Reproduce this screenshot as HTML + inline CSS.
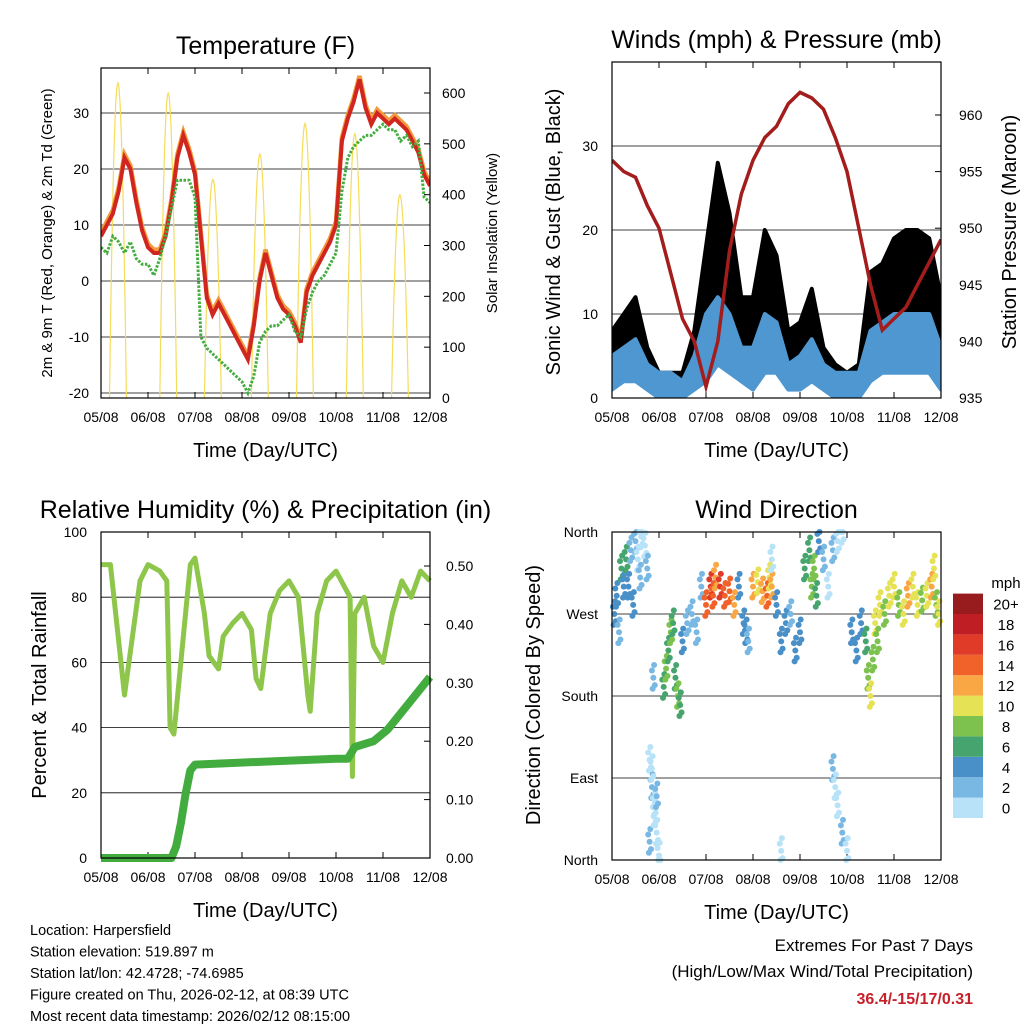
<!DOCTYPE html>
<html><head><meta charset="utf-8"><style>
html,body{margin:0;padding:0;background:#fff;}
svg{display:block;font-family:"Liberation Sans",sans-serif;}
</style></head><body>
<svg id="c" width="1024" height="1024" viewBox="0 0 1024 1024" xmlns="http://www.w3.org/2000/svg">
<rect width="1024" height="1024" fill="#fff"/>
</svg>
<script>
// ---------- DATA ----------
const dayLabels = ["05/08","06/08","07/08","08/08","09/08","10/08","11/08","12/08"];
const tempF = [8,10,12,16,22,20,14,9,6,5,5,8,14,22,26,23,19,8,-3,-6,-4,-6,-8,-10,-12,-14,-8,0,5,1,-3,-5,-6,-8,-11,-2,1,3,5,7,10,25,29,32,36,31,28,30,29,28,29,28,27,25,23,19,17];
const dewF = [6,5,8,7,5,7,4,3,3,1,4,8,13,18,18,18,15,-10,-12,-13,-14,-15,-16,-17,-18,-20,-17,-11,-9,-8,-8,-7,-6,-9,-10,-5,-2,0,1,3,5,16,22,24,25,26,26,27,28,27,27,25,26,24,25,15,14];
const solarNoon = [0.36,1.43,2.38,3.38,4.34,5.4,6.36];
const solarPeak = [620,600,430,480,540,520,400];
const tempTicks = [-20,-10,0,10,20,30];
const solarTicks = [0,100,200,300,400,500,600];
const windLo = [1,2,2,1,0,0,0,1,2,4,3,2,1,3,3,1,1,2,1,0,0,0,2,3,3,3,3,3,1];
const windHi = [5,6,7,4,3,3,2,5,10,12,10,6,6,10,9,4,5,7,4,3,3,3,8,9,10,10,10,10,6];
const gustLo = [3,5,5,2,1,1,1,2,5,12,10,4,4,8,8,2,3,5,2,1,1,1,4,6,7,8,8,8,3];
const gustHi = [8,10,12,6,3,3,3,8,18,28,22,12,12,20,17,8,9,13,6,4,3,4,15,16,19,20,20,19,12];
const pressure = [956,955,954.5,952,950,946,942,940,936,940,948,953,956,958,959,961,962,961.5,960.5,958,955,950,945,941,942,943,945,947,949];
const windTicks = [0,10,20,30];
const presTicks = [935,940,945,950,955,960];
const rhTime = [0,0.2,0.5,0.83,1.0,1.25,1.4,1.47,1.55,1.9,2.0,2.2,2.3,2.5,2.6,2.8,3.0,3.2,3.3,3.4,3.6,3.8,4.0,4.2,4.4,4.45,4.6,4.8,5.0,5.3,5.35,5.4,5.6,5.8,6.0,6.2,6.4,6.6,6.8,7.0];
const rhVal  = [90,90,50,85,90,88,85,40,38,90,92,75,62,58,68,72,75,70,55,52,75,82,85,80,50,45,75,85,88,80,25,75,80,65,60,75,85,80,88,85];
const prTime = [0,1.5,1.6,1.7,1.8,1.9,2.0,3.5,5.0,5.25,5.4,5.8,6.1,6.4,6.7,7.0];
const prVal  = [0,0,0.02,0.06,0.11,0.15,0.16,0.165,0.17,0.17,0.19,0.20,0.22,0.25,0.28,0.31];
const rhTicks = [0,20,40,60,80,100];
const prTicks = [0,0.1,0.2,0.3,0.4,0.5];
const dirTime = [0.05,0.1,0.15,0.2,0.25,0.3,0.35,0.4,0.45,0.5,0.55,0.6,0.62,0.7,0.75,0.8,0.85,0.9,0.95,0.8,0.85,0.9,0.95,1.0,0.88,1.1,1.15,1.2,1.25,1.3,1.35,1.4,1.45,1.5,1.6,1.7,1.8,1.9,2.0,2.1,2.15,2.2,2.3,2.4,2.5,2.6,2.7,2.8,2.85,2.9,3.0,3.1,3.2,3.3,3.35,3.4,3.5,3.6,3.7,3.8,3.9,4.0,4.1,4.2,4.25,4.3,4.35,4.4,4.5,4.6,4.7,4.8,4.9,4.7,4.8,4.9,5.0,4.75,5.1,5.2,5.3,5.4,5.45,5.5,5.55,5.6,5.65,5.7,5.8,5.9,6.0,6.1,6.2,6.3,6.4,6.5,6.6,6.7,6.8,6.85,6.9,6.95,3.4,3.6];
const dirVal  = [270,290,250,320,300,330,300,340,280,350,330,310,355,345,320,110,80,60,30,20,100,50,70,5,200,190,210,230,250,260,200,180,170,240,260,270,250,300,280,300,290,310,300,290,295,280,300,260,250,240,300,305,295,290,310,300,280,240,260,270,230,250,320,340,300,320,290,350,330,300,340,350,360,100,60,30,10,80,250,230,260,240,200,180,220,260,240,280,270,290,300,280,270,290,300,280,285,290,300,320,280,270,330,10];
const dirSpd  = [4,3,2,5,4,6,3,1,4,1,0,1,0,0,1,0,1,0,0,1,0,0,1,0,2,6,7,5,7,6,5,7,6,4,2,1,2,1,13,15,14,12,16,13,14,12,3,4,3,2,11,10,12,13,9,11,3,4,3,2,4,3,5,6,7,8,6,3,1,0,1,0,0,1,0,1,0,0,4,3,4,6,7,9,8,10,7,9,8,10,10,8,9,11,10,9,8,10,12,9,8,10,0,0];
const dirTicks = ["North","East","South","West","North"];
const spdColors = ["#b7e2f7","#7ab8e4","#4a90c8","#46a56e","#7dc24f","#e6e256","#f9a645","#f1622b","#e03a28","#be1e24","#981b1e"];
const spdLabels = ["0","2","4","6","8","10","12","14","16","18","20+"];

// ---------- HELPERS ----------
const svg = document.getElementById('c');
const NS = "http://www.w3.org/2000/svg";
function mk(tag, at, parent){const e=document.createElementNS(NS,tag);for(const k in at)e.setAttribute(k,at[k]);(parent||svg).appendChild(e);return e;}
function txt(x,y,s,size,anchor,parent,extra){const t=mk('text',Object.assign({x:x,y:y,'font-size':size,'text-anchor':anchor||'middle',fill:'#000'},extra||{}),parent);t.textContent=s;return t;}
function lin(d0,d1,r0,r1){return v=>r0+(v-d0)/(d1-d0)*(r1-r0);}

function panel(name,x0,x1,y0,y1,title){
  const g=mk('g',{});
  
  
  const tt=txt((x0+x1)/2,y0-14,title,25,'middle',g);
  
  
  const xt=txt((x0+x1)/2,y1+59,'Time (Day/UTC)',20,'middle',g);
  
  
  const X=lin(0,7,x0,x1);
  dayLabels.forEach((d,i)=>{
    const l=txt(X(i),y1+24,d,14,'middle',g);
    
    
    mk('line',{x1:X(i),x2:X(i),y1:y1,y2:y1-6,stroke:'#000','stroke-width':1},g);
    mk('line',{x1:X(i),x2:X(i),y1:y0,y2:y0+6,stroke:'#000','stroke-width':1},g);
  });
  return {g,X};
}
function frame(g,x0,x1,y0,y1){mk('rect',{x:x0,y:y0,width:x1-x0,height:y1-y0,fill:'none',stroke:'#000','stroke-width':1.2},g);}
function vlabel(x,y,s,size,g,name){const t=txt(x,y,s,size,'middle',g,{transform:`rotate(-90 ${x} ${y})`});}
function pathOf(xs,ys){return xs.map((x,i)=>(i?'L':'M')+x.toFixed(1)+','+ys[i].toFixed(1)).join('');}

// ---------- PANEL 1 ----------
(function(){
  const x0=101,x1=430,y0=68,y1=398;
  const {g,X}=panel('temperature-panel',x0,x1,y0,y1,'Temperature (F)');
  const Y=lin(-20,10,393,225), YS=lin(0,600,398,93);
  tempTicks.forEach(v=>{mk('line',{x1:x0,x2:x1,y1:Y(v),y2:Y(v),stroke:'#000','stroke-width':0.8},g);
    const l=txt(x0-12,Y(v)+5,String(v),14,'end',g);});
  solarTicks.forEach(v=>{mk('line',{x1:x1,x2:x1-6,y1:YS(v),y2:YS(v),stroke:'#000'},g);
    const l=txt(x1+12,YS(v)+5,String(v),14,'start',g);});
  const cp=mk('clipPath',{id:'cp1'},g);mk('rect',{x:x0,y:y0,width:x1-x0,height:y1-y0},cp);
  const pg=mk('g',{'clip-path':'url(#cp1)'},g);
  solarNoon.forEach((n,i)=>{
    const xs=[],ys=[];
    for(let k=-12;k<=12;k++){const t=n+k*0.015;const f=Math.max(0,1-(k/12)*(k/12));xs.push(X(t));ys.push(YS(solarPeak[i]*f));}
    const p=mk('path',{d:pathOf(xs,ys),fill:'none',stroke:'#f5dc5a','stroke-width':1.2},pg);
    
  });
  const tx=tempF.map((v,i)=>X(i*7/(tempF.length-1)));
  const po=mk('path',{d:pathOf(tx,tempF.map(v=>Y(v+0.6))),fill:'none',stroke:'#f39a3c','stroke-width':4.5},pg);
  
  const pr=mk('path',{d:pathOf(tx,tempF.map(Y)),fill:'none',stroke:'#d0261f','stroke-width':4},pg);
  
  const dx=dewF.map((v,i)=>X(i*7/(dewF.length-1)));
  const pd=mk('path',{d:pathOf(dx,dewF.map(Y)),fill:'none',stroke:'#44ad3f','stroke-width':3,'stroke-dasharray':'2.5 1.5'},pg);
  
  frame(g,x0,x1,y0,y1);
  vlabel(52,233,'2m & 9m T (Red, Orange) & 2m Td (Green)',15,g,'y-axis-title');
  vlabel(497,233,'Solar Insolation (Yellow)',15,g,'y2-axis-title');
})();

// ---------- PANEL 2 ----------
(function(){
  const x0=612,x1=941,y0=62,y1=398;
  const {g,X}=panel('winds-panel',x0,x1,y0,y1,'Winds (mph) & Pressure (mb)');
  const Y=lin(0,10,398,314), YP=lin(935,960,398,115);
  windTicks.forEach(v=>{mk('line',{x1:x0,x2:x1,y1:Y(v),y2:Y(v),stroke:'#000','stroke-width':0.8},g);
    const l=txt(x0-14,Y(v)+5,String(v),14,'end',g);});
  presTicks.forEach(v=>{mk('line',{x1:x1,x2:x1-6,y1:YP(v),y2:YP(v),stroke:'#000'},g);
    const l=txt(x1+18,YP(v)+5,String(v),14,'start',g);});
  const cp=mk('clipPath',{id:'cp2'},g);mk('rect',{x:x0,y:y0,width:x1-x0,height:y1-y0},cp);
  const pg=mk('g',{'clip-path':'url(#cp2)'},g);
  const wx=gustHi.map((v,i)=>X(i*7/(gustHi.length-1)));
  const band=(lo,hi,col,name)=>{const up=hi.map(Y),dn=lo.map(Y);
    const d=pathOf(wx,up)+pathOf(wx.slice().reverse(),dn.slice().reverse()).replace('M','L')+'Z';
    const p=mk('path',{d:d,fill:col,stroke:col,'stroke-width':4,'stroke-linejoin':'round'},pg);
    };
  band(gustLo,gustHi,'#000','gust-band');
  band(windLo,windHi,'#4f97d1','wind-speed-band');
  const pp=mk('path',{d:pathOf(wx,pressure.map(YP)),fill:'none',stroke:'#a31d1d','stroke-width':3.5},pg);
  
  frame(g,x0,x1,y0,y1);
  vlabel(560,232,'Sonic Wind & Gust (Blue, Black)',20,g,'y-axis-title');
  vlabel(1016,232,'Station Pressure (Maroon)',20,g,'y2-axis-title');
})();

// ---------- PANEL 3 ----------
(function(){
  const x0=101,x1=430,y0=532,y1=858;
  const {g,X}=panel('humidity-panel',x0,x1,y0,y1,'Relative Humidity (%) & Precipitation (in)');
  const Y=lin(0,100,858,532), YR=lin(0,0.5,858,566);
  rhTicks.forEach(v=>{if(v>0&&v<100)mk('line',{x1:x0,x2:x1,y1:Y(v),y2:Y(v),stroke:'#000','stroke-width':0.8},g);
    const l=txt(x0-14,Y(v)+5,String(v),14,'end',g);});
  prTicks.forEach(v=>{mk('line',{x1:x1,x2:x1-6,y1:YR(v),y2:YR(v),stroke:'#000'},g);
    const l=txt(x1+16,YR(v)+5,v.toFixed(2),14,'start',g);});
  const p1=mk('path',{d:pathOf(rhTime.map(X),rhVal.map(Y)),fill:'none',stroke:'#8dc64a','stroke-width':5,'stroke-linejoin':'round'},g);
  
  const p2=mk('path',{d:pathOf(prTime.map(X),prVal.map(YR)),fill:'none',stroke:'#43ac3f','stroke-width':8,'stroke-linejoin':'round'},g);
  
  frame(g,x0,x1,y0,y1);
  vlabel(46,695,'Percent & Total Rainfall',20,g,'y-axis-title');
})();

// ---------- PANEL 4 ----------
(function(){
  const x0=612,x1=941,y0=532,y1=860;
  const {g,X}=panel('wind-direction-panel',x0,x1,y0,y1,'Wind Direction');
  const Y=lin(0,360,860,532);
  dirTicks.forEach((s,i)=>{const v=i*90;if(i>0&&i<4)mk('line',{x1:x0,x2:x1,y1:Y(v),y2:Y(v),stroke:'#000','stroke-width':0.8},g);
    const l=txt(x0-14,Y(v)+5,s,14,'end',g);});
  const offs=[[0,0],[-0.03,8],[0.03,-8],[0.015,14],[-0.015,-12]];
  dirTime.forEach((t,i)=>{const ci=Math.min(10,Math.round(dirSpd[i]/2));
    offs.forEach(o=>{
      const v=Math.max(0,Math.min(360,dirVal[i]+o[1]));
      const c=mk('circle',{cx:X(t+o[0]),cy:Y(v),r:3,fill:spdColors[ci]},g);
      
      
    });});
  frame(g,x0,x1,y0,y1);
  vlabel(540,695,'Direction (Colored By Speed)',20,g,'y-axis-title');
  const lg=mk('g',{});
  
  
  txt(1006,588,'mph',15,'middle',lg);
  spdColors.forEach((c,i)=>{const yy=818-(i+1)*20.4;
    mk('rect',{x:953,y:yy,width:30,height:20.4,fill:c},lg);
    const l=txt(1006,yy+16,spdLabels[i],15,'middle',lg);});
})();

// ---------- FOOTER ----------
const info=["Location: Harpersfield","Station elevation: 519.897 m","Station lat/lon: 42.4728; -74.6985","Figure created on Thu, 2026-02-12, at 08:39 UTC","Most recent data timestamp: 2026/02/12 08:15:00"];
const fg=mk('g',{});


info.forEach((s,i)=>txt(30,935+i*21.5,s,14.5,'start',fg));
const eg=mk('g',{});


txt(973,951,'Extremes For Past 7 Days',17,'end',eg);
txt(973,977,'(High/Low/Max Wind/Total Precipitation)',17,'end',eg);
txt(973,1004,'36.4/-15/17/0.31',16,'end',eg,{fill:'#c8202a','font-weight':'bold'});
</script>
</body></html>
